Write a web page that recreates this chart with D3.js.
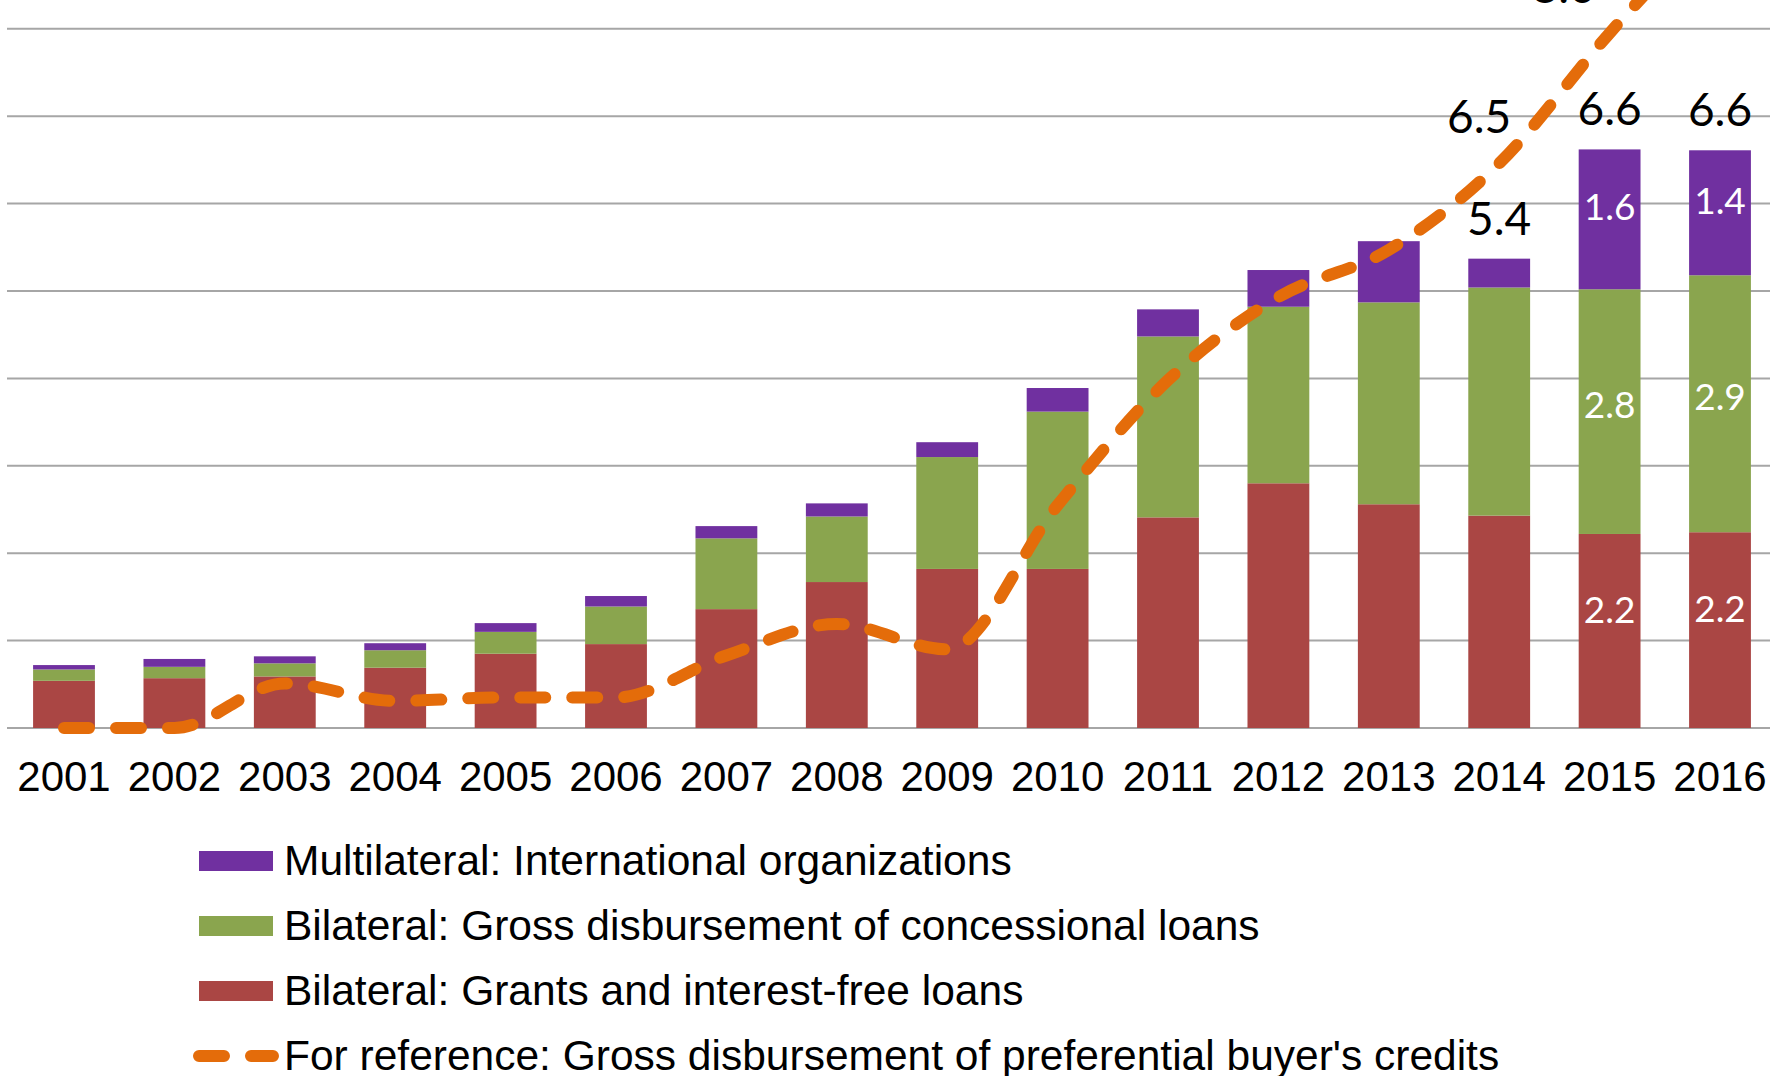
<!DOCTYPE html>
<html>
<head>
<meta charset="utf-8">
<script src="https://cdn.jsdelivr.net/npm/d3@7"></script>
<style>
  html, body { margin: 0; padding: 0; background: #fff; overflow: hidden; }
  svg { display: block; }
</style>
</head>
<body>
<svg id="chart" width="1770" height="1076"></svg>
<script>
// ---- data (US$ billion) ----
const years = [2001, 2002, 2003, 2004, 2005, 2006, 2007, 2008, 2009, 2010, 2011, 2012, 2013, 2014, 2015, 2016];
const grants        = [0.54, 0.57, 0.59, 0.69, 0.85, 0.96, 1.36, 1.67, 1.82, 1.82, 2.41, 2.80, 2.56, 2.43, 2.22, 2.24];
const concessional  = [0.13, 0.13, 0.15, 0.20, 0.25, 0.43, 0.81, 0.75, 1.28, 1.80, 2.07, 2.02, 2.31, 2.61, 2.80, 2.94];
const multilateral  = [0.05, 0.09, 0.08, 0.08, 0.10, 0.12, 0.14, 0.15, 0.17, 0.27, 0.31, 0.42, 0.70, 0.33, 1.60, 1.43];
const buyerCredits  = [0.00, 0.00, 0.51, 0.31, 0.35, 0.35, 0.83, 1.19, 0.90, 2.55, 3.98, 4.93, 5.47, 6.46, 7.95, 9.30];
const yTicks = [0, 1, 2, 3, 4, 5, 6, 7, 8];
const totalLabelYears = [2014, 2015, 2016];
const segmentLabelYears = [2015, 2016];
const lineLabelYears = [2014, 2015];
const legendLabels = [
  "Multilateral: International organizations",
  "Bilateral: Gross disbursement of concessional loans",
  "Bilateral: Grants and interest-free loans",
  "For reference: Gross disbursement of preferential buyer's credits"
];

// ---- styles ----
const colors = { grants: "#AA4644", concessional: "#8AA54E", multilateral: "#7030A0", line: "#E46C0A" };
const keys = ["grants", "concessional", "multilateral"];
const segLabelShift = { grants: -8, concessional: 6, multilateral: 1 };
const lineLabelDx = { 2014: -20, 2015: -46 };

const table = years.map((yr, i) => ({
  year: yr, grants: grants[i], concessional: concessional[i], multilateral: multilateral[i], credit: buyerCredits[i]
}));

const svg = d3.select("#chart");
svg.append("rect").attr("width", 1770).attr("height", 1076).attr("fill", "#fff");

const x = d3.scaleBand().domain(years).range([8.8, 1775.2]).paddingInner(0.44).paddingOuter(0.22);
const y = d3.scaleLinear().domain([0, 8]).range([728, 28.8]);
const cx = yr => x(yr) + x.bandwidth() / 2;

// gridlines
svg.append("g").selectAll("line").data(yTicks).join("line")
  .attr("x1", 7).attr("x2", 1770)
  .attr("y1", d => y(d)).attr("y2", d => y(d))
  .attr("stroke", "#A6A6A6").attr("stroke-width", 2);

// stacked bars
const stacked = d3.stack().keys(keys)(table);
const layers = svg.append("g").selectAll("g").data(stacked).join("g")
  .attr("fill", d => colors[d.key]);
layers.selectAll("rect").data(d => d).join("rect")
  .attr("x", d => x(d.data.year))
  .attr("width", x.bandwidth())
  .attr("y", d => y(d[1]))
  .attr("height", d => y(d[0]) - y(d[1]));

// segment labels (white)
const fmt = d3.format(".1f");
stacked.forEach(layer => {
  svg.append("g").selectAll("text")
    .data(layer.filter(d => segmentLabelYears.includes(d.data.year)))
    .join("text")
    .attr("x", d => cx(d.data.year))
    .attr("y", d => (y(d[0]) + y(d[1])) / 2 + segLabelShift[layer.key])
    .attr("text-anchor", "middle")
    .attr("font-family", "Lato, 'Open Sans', sans-serif")
    .attr("font-size", 37)
    .attr("fill", "#fff")
    .text(d => fmt(d[1] - d[0]));
});

// total labels
svg.append("g").selectAll("text")
  .data(table.filter(d => totalLabelYears.includes(d.year)))
  .join("text")
  .attr("x", d => cx(d.year))
  .attr("y", d => y(d.grants + d.concessional + d.multilateral) - 24)
  .attr("text-anchor", "middle")
  .attr("font-family", "Lato, 'Open Sans', sans-serif")
  .attr("font-size", 46)
  .attr("fill", "#000")
  .text(d => fmt(d.grants + d.concessional + d.multilateral));

// dashed line (preferential buyer's credits)
const line = d3.line()
  .x(d => cx(d.year))
  .y(d => y(d.credit))
  .curve(d3.curveMonotoneX);
svg.append("path").datum(table)
  .attr("d", line)
  .attr("fill", "none")
  .attr("stroke", colors.line)
  .attr("stroke-width", 12)
  .attr("stroke-linecap", "round")
  .attr("stroke-dasharray", "25 27");

// line labels
svg.append("g").selectAll("text")
  .data(table.filter(d => lineLabelYears.includes(d.year)))
  .join("text")
  .attr("x", d => cx(d.year) + lineLabelDx[d.year])
  .attr("y", d => y(d.credit) - 30)
  .attr("text-anchor", "middle")
  .attr("font-family", "Lato, 'Open Sans', sans-serif")
  .attr("font-size", 46)
  .attr("fill", "#000")
  .text(d => fmt(d.credit));

// x axis
const xAxis = d3.axisBottom(x).tickSize(0).tickPadding(33);
const gx = svg.append("g").attr("transform", "translate(0,728)").call(xAxis);
gx.select(".domain").remove();
gx.selectAll("text")
  .attr("font-family", "'Liberation Sans', Arial, sans-serif")
  .attr("font-size", 42)
  .attr("fill", "#000");

// legend
const legendColors = [colors.multilateral, colors.concessional, colors.grants];
const lg = svg.append("g");
const rowY = i => 861 + i * 65;
legendColors.forEach((c, i) => {
  lg.append("rect").attr("x", 199).attr("y", rowY(i) - 10).attr("width", 74).attr("height", 20).attr("fill", c);
});
lg.append("line")
  .attr("x1", 199).attr("x2", 273).attr("y1", rowY(3)).attr("y2", rowY(3))
  .attr("stroke", colors.line).attr("stroke-width", 12)
  .attr("stroke-linecap", "round").attr("stroke-dasharray", "25 27");
lg.selectAll("text").data(legendLabels).join("text")
  .attr("x", 284)
  .attr("y", (d, i) => rowY(i) + 14)
  .attr("font-family", "'Liberation Sans', Arial, sans-serif")
  .attr("font-size", 42.5)
  .attr("fill", "#000")
  .text(d => d);
</script>
</body>
</html>
